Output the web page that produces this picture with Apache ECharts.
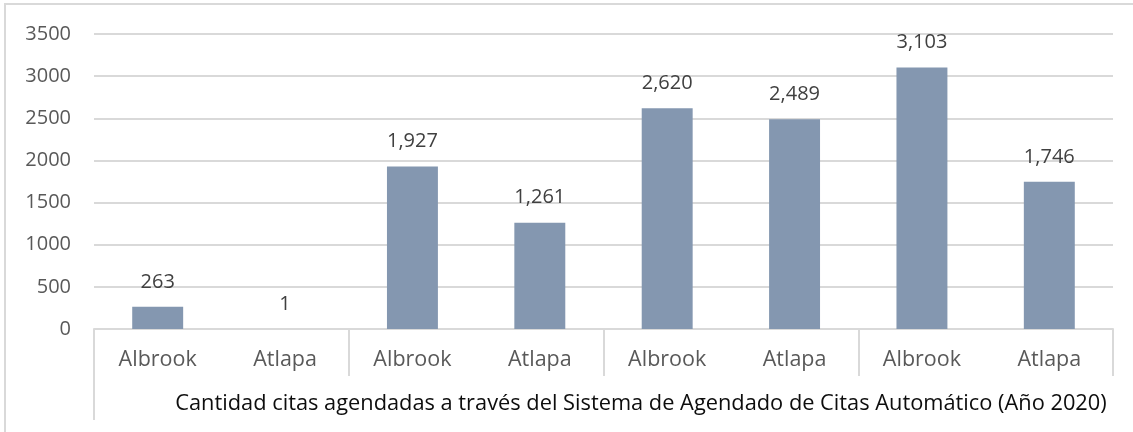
<!DOCTYPE html>
<html>
<head>
<meta charset="utf-8">
<script src="https://cdn.jsdelivr.net/npm/echarts@6/dist/echarts.min.js"></script>
<style>
  html, body { margin: 0; padding: 0; background: #fff; }
  #chart { width: 1133px; height: 432px; }
</style>
</head>
<body>
<div id="chart"></div>
<script>
// ---- data ----
const categories = ['Albrook', 'Atlapa', 'Albrook', 'Atlapa', 'Albrook', 'Atlapa', 'Albrook', 'Atlapa'];
const values = [263, 1, 1927, 1261, 2620, 2489, 3103, 1746];
const groupTitle = 'Cantidad citas agendadas a través del Sistema de Agendado de Citas Automático (Año 2020)';
const yTicks = [0, 500, 1000, 1500, 2000, 2500, 3000, 3500];

const FONT = '"Open Sans"';
const chart = echarts.init(document.getElementById('chart'));
const gridLeft = 94, gridRight = 20, gridTop = 34, gridBottom = 103;

chart.setOption({
  animation: false,
  textStyle: { fontFamily: FONT },
  grid: { left: gridLeft, right: gridRight, top: gridTop, bottom: gridBottom, containLabel: false },
  xAxis: [{
    type: 'category',
    data: categories,
    boundaryGap: true,
    axisLine: { show: true, lineStyle: { color: '#d9d9d9', width: 2 } },
    axisTick: {
      show: true,
      length: 47,
      interval: function (i) { return i % 2 === 0; },
      lineStyle: { color: '#d9d9d9', width: 2 }
    },
    axisLabel: { color: '#595959', fontSize: 21.5, fontFamily: FONT, margin: 20, interval: 0 }
  }],
  yAxis: {
    type: 'value',
    min: yTicks[0],
    max: yTicks[yTicks.length - 1],
    interval: 500,
    axisLine: { show: false },
    axisTick: { show: false },
    splitLine: { lineStyle: { color: '#d9d9d9', width: 2 } },
    axisLabel: {
      color: '#595959', fontSize: 20, fontFamily: FONT, margin: 23,
      formatter: function (v) { return String(v); }
    }
  },
  series: [{
    type: 'bar',
    data: values,
    barWidth: '40%',
    itemStyle: { color: '#8497B0' },
    label: {
      show: true,
      position: 'top',
      distance: 15,
      color: '#404040',
      fontSize: 20,
      fontFamily: FONT,
      formatter: function (p) { return Number(p.value).toLocaleString('en-US'); }
    }
  }],
  graphic: [
    {
      type: 'rect',
      shape: { x: 5, y: 4, width: 1200, height: 500 },
      style: { fill: 'none', stroke: '#d9d9d9', lineWidth: 2 },
      silent: true
    },
    {
      type: 'line',
      shape: { x1: gridLeft, y1: 432 - gridBottom, x2: gridLeft, y2: 420 },
      style: { stroke: '#d9d9d9', lineWidth: 2 },
      silent: true
    },
    {
      type: 'text',
      x: 641,
      y: 404,
      style: {
        text: groupTitle,
        fill: '#0d0d0d',
        fontSize: 21.8,
        fontFamily: FONT,
        align: 'center',
        verticalAlign: 'middle'
      },
      silent: true
    }
  ]
});
</script>
</body>
</html>
